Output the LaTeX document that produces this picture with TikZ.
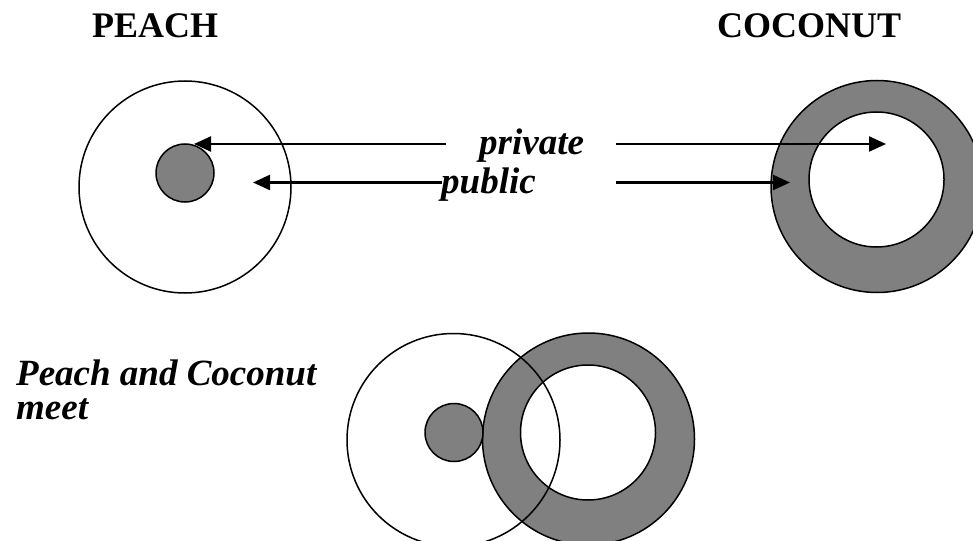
\documentclass[tikz,border=0pt]{standalone}
\usepackage{fontspec}
\setmainfont{Liberation Serif}
\usetikzlibrary{arrows.meta}
\definecolor{pgray}{HTML}{808080}
\begin{document}
\begin{tikzpicture}[x=1pt,y=-1pt,
 ring/.style={circle, draw, line width=1.5pt, inner sep=0pt, fill=pgray},
 hole/.style={circle, draw, line width=1.5pt, inner sep=0pt, fill=white},
 skin/.style={circle, draw, line width=1.5pt, inner sep=0pt},
 pit/.style={circle, draw, line width=1.5pt, inner sep=0pt, fill=pgray, minimum size=58pt},
 arr/.style={line width=2.3pt, -{Triangle[length=17pt,width=15pt]}},
 title/.style={font=\fontsize{36}{40}\selectfont\bfseries, anchor=base west, inner sep=0pt},
 lab/.style={font=\fontsize{37}{40}\selectfont\bfseries\itshape, anchor=base west, inner sep=0pt}]
\useasboundingbox (0,0) rectangle (973,540);
% top peach
\node[skin, minimum size=212pt] (peach) at (185,187) {};
\node[pit] (peachpit) at (185,173) {};
% top coconut
\node[ring, minimum size=212pt] (coco) at (877,186.5) {};
\node[hole, minimum size=135pt] (cocohole) at (876.5,179.5) {};
% titles
\node[title] (peachT) at (92,38) {PEACH};
\node[title] (cocoT) at (717,38) {COCONUT};
% labels
\node[lab] (priv) at (479,155) {private};
\node[lab] (pub) at (441,193) {public};
% arrow ends
\coordinate (privLs) at (446,144);
\coordinate (privLe) at (194,144);
\coordinate (privRs) at (616,144);
\coordinate (privRe) at (886,144);
\coordinate (pubLs) at (442,182.5);
\coordinate (pubLe) at (253,182.5);
\coordinate (pubRs) at (616,182.5);
\coordinate (pubRe) at (790,182.5);
\draw[arr] (privLs) -- (privLe);
\draw[arr] (privRs) -- (privRe);
\draw[arr] (pubLs) -- (pubLe);
\draw[arr] (pubRs) -- (pubRe);
% bottom
\node[lab] (meet1) at (16,385) {Peach and Coconut};
\node[lab] (meet2) at (16,419) {meet};
\node[ring, minimum size=212pt] (coco2) at (588.5,439) {};
\node[hole, minimum size=135pt] (cocohole2) at (588,432.5) {};
\node[skin, minimum size=213pt] (peach2) at (453.5,440) {};
\node[pit] (peachpit2) at (454,432.5) {};
\end{tikzpicture}
\end{document}
